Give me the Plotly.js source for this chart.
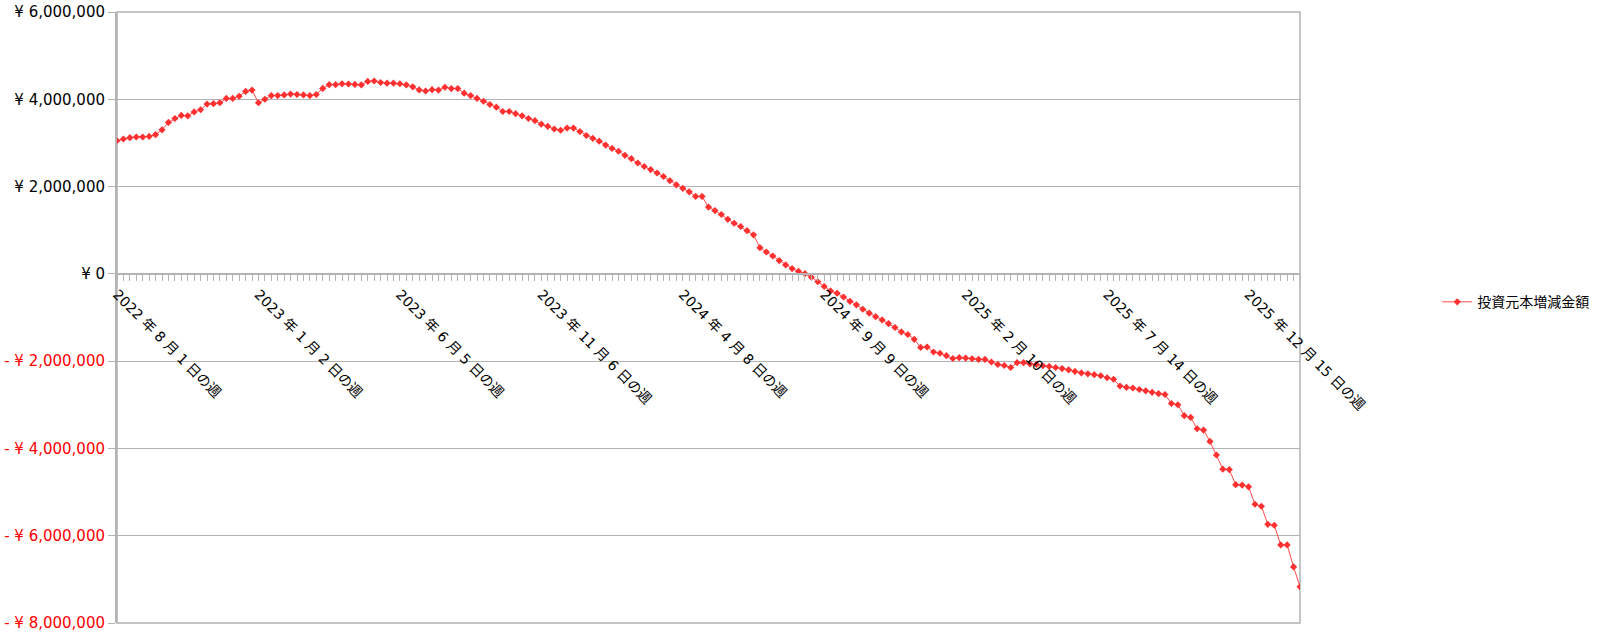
<!DOCTYPE html>
<html>
<head>
<meta charset="utf-8">
<script src="https://cdn.plot.ly/plotly-3.0.1.min.js"></script>
<style>
  html, body { margin: 0; padding: 0; background: #ffffff; }
  #chart { width: 1600px; height: 635px; }
</style>
</head>
<body>
<div id="chart"></div>
<script>
// Week start dates (categories)
const weeks = [
  '2022-08-01','2022-08-08','2022-08-15','2022-08-22','2022-08-29',
  '2022-09-05','2022-09-12','2022-09-19','2022-09-26',
  '2022-10-03','2022-10-10','2022-10-17','2022-10-24','2022-10-31',
  '2022-11-07','2022-11-14','2022-11-21','2022-11-28',
  '2022-12-05','2022-12-12','2022-12-19','2022-12-26',
  '2023-01-02','2023-01-09','2023-01-16','2023-01-23','2023-01-30',
  '2023-02-06','2023-02-13','2023-02-20','2023-02-27',
  '2023-03-06','2023-03-13','2023-03-20','2023-03-27',
  '2023-04-03','2023-04-10','2023-04-17','2023-04-24',
  '2023-05-01','2023-05-08','2023-05-15','2023-05-22','2023-05-29',
  '2023-06-05','2023-06-12','2023-06-19','2023-06-26',
  '2023-07-03','2023-07-10','2023-07-17','2023-07-24','2023-07-31',
  '2023-08-07','2023-08-14','2023-08-21','2023-08-28',
  '2023-09-04','2023-09-11','2023-09-18','2023-09-25',
  '2023-10-02','2023-10-09','2023-10-16','2023-10-23','2023-10-30',
  '2023-11-06','2023-11-13','2023-11-20','2023-11-27',
  '2023-12-04','2023-12-11','2023-12-18','2023-12-25',
  '2024-01-01','2024-01-08','2024-01-15','2024-01-22','2024-01-29',
  '2024-02-05','2024-02-12','2024-02-19','2024-02-26',
  '2024-03-04','2024-03-11','2024-03-18','2024-03-25',
  '2024-04-01','2024-04-08','2024-04-15','2024-04-22','2024-04-29',
  '2024-05-06','2024-05-13','2024-05-20','2024-05-27',
  '2024-06-03','2024-06-10','2024-06-17','2024-06-24',
  '2024-07-01','2024-07-08','2024-07-15','2024-07-22','2024-07-29',
  '2024-08-05','2024-08-12','2024-08-19','2024-08-26',
  '2024-09-02','2024-09-09','2024-09-16','2024-09-23','2024-09-30',
  '2024-10-07','2024-10-14','2024-10-21','2024-10-28',
  '2024-11-04','2024-11-11','2024-11-18','2024-11-25',
  '2024-12-02','2024-12-09','2024-12-16','2024-12-23','2024-12-30',
  '2025-01-06','2025-01-13','2025-01-20','2025-01-27',
  '2025-02-03','2025-02-10','2025-02-17','2025-02-24',
  '2025-03-03','2025-03-10','2025-03-17','2025-03-24','2025-03-31',
  '2025-04-07','2025-04-14','2025-04-21','2025-04-28',
  '2025-05-05','2025-05-12','2025-05-19','2025-05-26',
  '2025-06-02','2025-06-09','2025-06-16','2025-06-23','2025-06-30',
  '2025-07-07','2025-07-14','2025-07-21','2025-07-28',
  '2025-08-04','2025-08-11','2025-08-18','2025-08-25',
  '2025-09-01','2025-09-08','2025-09-15','2025-09-22','2025-09-29',
  '2025-10-06','2025-10-13','2025-10-20','2025-10-27',
  '2025-11-03','2025-11-10','2025-11-17','2025-11-24',
  '2025-12-01','2025-12-08','2025-12-15','2025-12-22','2025-12-29',
  '2026-01-05','2026-01-12','2026-01-19','2026-01-26',
  '2026-02-02','2026-02-09'
];

// 投資元本増減金額 (yen)
const principalChange = [
  3050000,3090000,3120000,3135000,3135000,3150000,3190000,3300000,3470000,3560000,
  3630000,3620000,3710000,3760000,3890000,3900000,3920000,4020000,4020000,4070000,
  4180000,4210000,3920000,4000000,4085000,4085000,4100000,4120000,4110000,4100000,
  4085000,4110000,4250000,4335000,4335000,4355000,4350000,4340000,4330000,4410000,
  4420000,4385000,4370000,4370000,4355000,4330000,4285000,4215000,4190000,4220000,
  4210000,4275000,4245000,4245000,4140000,4085000,4020000,3955000,3880000,3820000,
  3720000,3720000,3670000,3620000,3560000,3510000,3430000,3380000,3320000,3290000,
  3340000,3340000,3260000,3170000,3105000,3040000,2950000,2875000,2810000,2715000,
  2640000,2540000,2460000,2390000,2310000,2230000,2135000,2040000,1960000,1880000,
  1775000,1775000,1530000,1450000,1360000,1250000,1160000,1085000,990000,895000,
  600000,500000,410000,305000,205000,120000,60000,5000,-75000,-180000,
  -290000,-390000,-445000,-530000,-630000,-710000,-810000,-900000,-980000,-1055000,
  -1140000,-1230000,-1330000,-1390000,-1500000,-1685000,-1675000,-1790000,-1820000,-1875000,
  -1940000,-1920000,-1930000,-1945000,-1960000,-1960000,-2020000,-2075000,-2100000,-2145000,
  -2035000,-2035000,-2065000,-2075000,-2105000,-2120000,-2145000,-2170000,-2200000,-2235000,
  -2270000,-2290000,-2310000,-2335000,-2380000,-2415000,-2570000,-2600000,-2615000,-2650000,
  -2680000,-2715000,-2745000,-2765000,-2970000,-3000000,-3250000,-3290000,-3550000,-3580000,
  -3840000,-4150000,-4475000,-4485000,-4830000,-4840000,-4880000,-5280000,-5325000,-5740000,
  -5760000,-6210000,-6210000,-6715000,-7170000
];

// X tick positions and labels
const xTickVals = ['2022-08-01','2023-01-02','2023-06-05','2023-11-06','2024-04-08',
                   '2024-09-09','2025-02-10','2025-07-14','2025-12-15'];
const xTickText = ['2022 年 8 月 1 日の週','2023 年 1 月 2 日の週','2023 年 6 月 5 日の週',
                   '2023 年 11 月 6 日の週','2024 年 4 月 8 日の週','2024 年 9 月 9 日の週',
                   '2025 年 2 月 10 日の週','2025 年 7 月 14 日の週','2025 年 12 月 15 日の週'];

// Y tick positions and labels
const yTickVals = [6000000,4000000,2000000,0,-2000000,-4000000,-6000000,-8000000];
const yTickText = ['¥ 6,000,000','¥ 4,000,000','¥ 2,000,000','¥ 0',
                   '- ¥ 2,000,000','- ¥ 4,000,000','- ¥ 6,000,000','- ¥ 8,000,000'];

const seriesName = '投資元本増減金額';

const yTickTextStyled = yTickText.map((t, i) =>
  yTickVals[i] < 0 ? '<span style="color:#ff0000">' + t + '</span>' : t);

const trace = {
  x: weeks,
  y: principalChange,
  type: 'scatter',
  mode: 'lines+markers',
  name: seriesName,
  line: { color: '#ff4a4a', width: 1 },
  marker: { symbol: 'diamond', size: 5.5, color: '#ff3030' }
};

const gridColor = '#b3b3b3';
const fontFam = 'DejaVu Sans, Noto Sans CJK JP, sans-serif';

const layout = {
  width: 1600,
  height: 635,
  margin: { l: 117, r: 300, t: 12, b: 12, pad: 0, autoexpand: false },
  paper_bgcolor: '#ffffff',
  plot_bgcolor: '#ffffff',
  font: { family: fontFam, size: 14, color: '#000000' },
  showlegend: true,
  legend: {
    x: 1.116, xanchor: 'left',
    y: 0.525, yanchor: 'middle',
    font: { family: 'Noto Sans CJK JP, DejaVu Sans, sans-serif', size: 14, color: '#000000' },
    bgcolor: 'rgba(0,0,0,0)'
  },
  shapes: [
    { type: 'rect', xref: 'paper', yref: 'paper', x0: 0, x1: 1, y0: 0, y1: 1,
      line: { color: gridColor, width: 1.5 }, layer: 'below' }
  ],
  xaxis: {
    type: 'date',
    automargin: false,
    range: [weeks[0], weeks[weeks.length - 1]],
    anchor: 'free',
    position: 8 / 14,
    showgrid: false,
    zeroline: false,
    showline: true,
    linecolor: gridColor,
    linewidth: 2,
    ticks: 'outside',
    ticklen: 6,
    tickwidth: 1,
    tickcolor: gridColor,
    tickmode: 'array',
    tickvals: xTickVals,
    ticktext: xTickText,
    tickangle: 45,
    tickfont: { family: fontFam, size: 14, color: '#000000' },
    minor: {
      ticks: 'outside',
      ticklen: 6,
      tickwidth: 1,
      tickcolor: gridColor,
      tick0: weeks[0],
      dtick: 7 * 24 * 3600 * 1000,
      showgrid: false
    }
  },
  yaxis: {
    automargin: false,
    range: [-8000000, 6000000],
    tickmode: 'array',
    tickvals: yTickVals,
    ticktext: yTickTextStyled,
    showgrid: true,
    gridcolor: gridColor,
    gridwidth: 1,
    zeroline: false,
    showline: true,
    mirror: false,
    linecolor: gridColor,
    linewidth: 2,
    ticks: 'outside',
    ticklen: 7,
    tickcolor: gridColor,
    tickfont: { family: fontFam, size: 15, color: '#000000' }
  }
};

Plotly.newPlot('chart', [trace], layout, { displayModeBar: false, staticPlot: true });
</script>
</body>
</html>
